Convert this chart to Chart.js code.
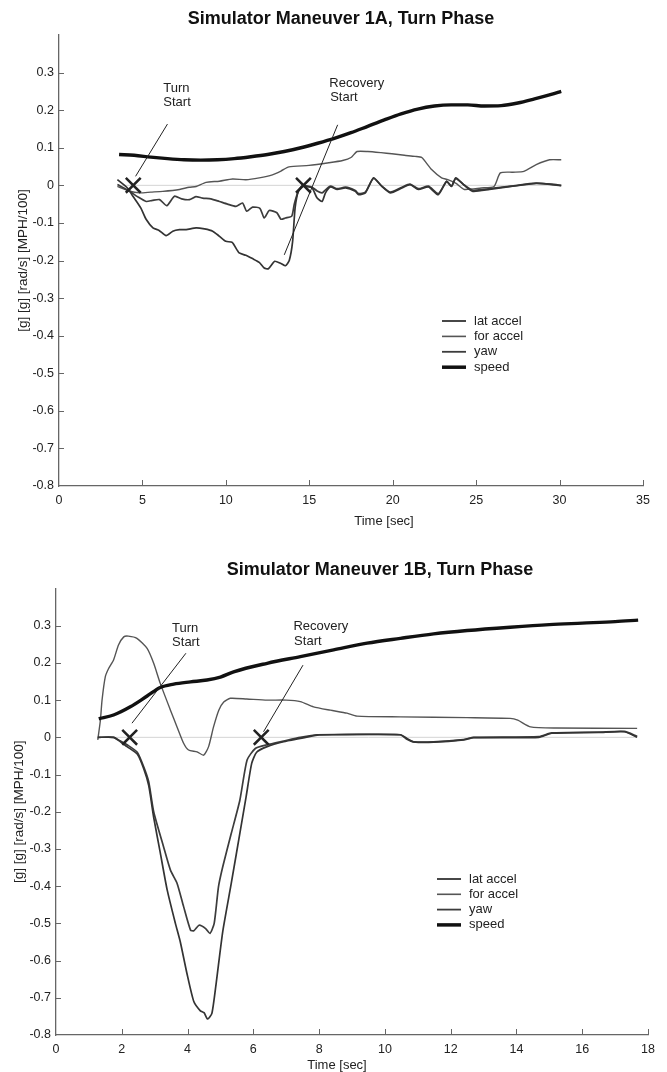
<!DOCTYPE html>
<html><head><meta charset="utf-8">
<script src="https://cdn.jsdelivr.net/npm/chart.js@4.4.1/dist/chart.umd.min.js"></script>
<style>
html,body{margin:0;padding:0;background:#fff;}
body{width:667px;height:1072px;position:relative;overflow:hidden;}
#c1{position:absolute;left:0;top:0;}
#c2{position:absolute;left:0;top:540px;}
</style></head><body>
<canvas id="c1" width="667" height="535"></canvas>
<canvas id="c2" width="667" height="532"></canvas>
<script>
// ---------- DATA: Maneuver 1A ----------
const titleA = 'Simulator Maneuver 1A, Turn Phase';
const seriesNames = ['lat accel', 'for accel', 'yaw', 'speed'];
const xTitle = 'Time [sec]';
const yTitle = '[g] [g] [rad/s] [MPH/100]';
const xTicksA = [0, 5, 10, 15, 20, 25, 30, 35];
const yTicks = [-0.8, -0.7, -0.6, -0.5, -0.4, -0.3, -0.2, -0.1, 0, 0.1, 0.2, 0.3, 0.4];

const latA = [[3.5,0.015],[4.1,-0.007],[4.43,-0.029],[4.9,-0.06],[5.23,-0.091],[5.63,-0.113],[6.0,-0.12],[6.42,-0.134],[6.82,-0.122],[7.22,-0.118],[7.62,-0.118],[8.22,-0.113],[8.72,-0.116],[9.21,-0.122],[9.6,-0.135],[10.0,-0.149],[10.38,-0.152],[10.8,-0.18],[11.2,-0.186],[11.6,-0.195],[12.0,-0.205],[12.3,-0.22],[12.55,-0.222],[12.93,-0.202],[13.3,-0.208],[13.57,-0.214],[13.8,-0.2],[14.0,-0.15],[14.15,-0.06],[14.35,-0.015],[14.6,-0.002],[14.78,-0.003],[15.17,-0.007],[15.47,-0.034],[15.77,-0.043],[15.97,-0.02],[16.27,-0.004],[16.67,-0.011],[17.17,-0.007],[17.76,-0.016],[17.96,-0.025],[18.36,-0.02],[18.85,0.02],[19.35,-0.003],[19.85,-0.02],[20.55,-0.007],[21.04,0.002],[21.54,-0.011],[22.14,-0.004],[22.73,-0.025],[23.23,0.011],[23.52,-0.003],[23.78,0.02],[24.29,0],[24.8,-0.016],[25.8,-0.011],[27.1,-0.003],[28.6,0.005],[29.5,0.003],[30.1,0]];
const forA = [[3.5,-0.003],[4.2,-0.015],[4.83,-0.02],[5.5,-0.018],[6.22,-0.016],[7.22,-0.011],[7.8,-0.005],[8.22,-0.003],[8.81,0.008],[9.61,0.011],[10.4,0.017],[11.2,0.015],[12.0,0.02],[12.79,0.028],[13.3,0.038],[13.78,0.049],[14.98,0.053],[16.17,0.06],[17.0,0.066],[17.5,0.074],[17.86,0.09],[18.5,0.09],[19.3,0.087],[19.95,0.084],[20.7,0.08],[21.34,0.077],[21.74,0.074],[22.33,0.042],[22.93,0.02],[23.3,0.015],[23.8,0.005],[24.29,-0.011],[25.3,-0.007],[26.07,-0.003],[26.45,0.033],[27.2,0.035],[27.86,0.037],[28.6,0.055],[29.4,0.068],[30.1,0.068]];
const yawA = [[3.5,0.002],[4.24,-0.016],[4.7,-0.03],[5.23,-0.043],[5.6,-0.04],[6.03,-0.038],[6.46,-0.054],[6.92,-0.029],[7.35,-0.036],[7.82,-0.038],[8.2,-0.03],[8.61,-0.034],[9.1,-0.036],[9.61,-0.043],[10.1,-0.05],[10.6,-0.056],[11.0,-0.047],[11.25,-0.069],[11.6,-0.058],[12.04,-0.061],[12.3,-0.087],[12.6,-0.067],[13.06,-0.073],[13.3,-0.09],[13.57,-0.087],[13.95,-0.082],[14.1,-0.05],[14.34,-0.016],[14.6,0],[14.8,-0.001],[15.17,-0.005],[15.47,-0.015],[15.77,-0.02],[15.97,-0.012],[16.27,-0.002],[16.67,-0.009],[17.17,-0.005],[17.76,-0.014],[17.96,-0.022],[18.36,-0.018],[18.85,0.018],[19.35,-0.002],[19.85,-0.018],[20.55,-0.005],[21.04,0.003],[21.54,-0.009],[22.14,-0.002],[22.73,-0.022],[23.23,0.01],[23.52,-0.002],[23.78,0.018],[24.29,0.001],[24.8,-0.013],[25.8,-0.009],[27.1,-0.002],[28.6,0.006],[29.5,0.002],[30.1,-0.001]];
const speedA = [[3.6,0.082],[4.5,0.08],[5.5,0.075],[6.5,0.071],[7.5,0.068],[8.5,0.067],[9.5,0.068],[10.5,0.071],[11.5,0.076],[12.5,0.082],[13.5,0.09],[14.5,0.1],[15.5,0.112],[16.5,0.125],[17.5,0.14],[18.5,0.157],[19.5,0.174],[20.5,0.19],[21.5,0.203],[22.5,0.211],[23.5,0.214],[24.5,0.214],[25.5,0.211],[26.5,0.212],[27.5,0.219],[28.5,0.23],[29.5,0.242],[30.1,0.25]];
const zeroA = [[3.6,0],[30.1,0]];
const marksA = [[4.45,0],[14.65,0]];
const turnLineA = [[6.5,0.163],[4.59,0.024]];
const recLineA = [[16.7,0.161],[13.5,-0.185]];
const notesA = [['Turn',6.25,0.259],['Start',6.25,0.221],['Recovery',16.2,0.272],['Start',16.25,0.234]];

// ---------- DATA: Maneuver 1B ----------
const titleB = 'Simulator Maneuver 1B, Turn Phase';
const xTicksB = [0, 2, 4, 6, 8, 10, 12, 14, 16, 18];
const latB = [[1.27,0],[1.75,0],[1.96,-0.012],[2.16,-0.025],[2.47,-0.045],[2.67,-0.085],[2.82,-0.13],[2.97,-0.215],[3.17,-0.31],[3.38,-0.41],[3.63,-0.5],[3.78,-0.55],[3.98,-0.634],[4.19,-0.71],[4.39,-0.735],[4.5,-0.74],[4.61,-0.757],[4.74,-0.742],[4.87,-0.661],[5.07,-0.522],[5.33,-0.392],[5.59,-0.258],[5.78,-0.16],[5.95,-0.07],[6.1,-0.04],[6.42,-0.025],[6.92,-0.012],[7.43,-0.003],[7.94,0.006],[8.44,0.007],[10.47,0.007],[10.67,-0.003],[10.87,-0.012],[11.48,-0.013],[12.39,-0.007],[12.7,-0.001],[14.68,0],[15.07,0.011],[16.5,0.013],[17.28,0.015],[17.67,0]];
const forB = [[1.27,-0.007],[1.35,0.046],[1.4,0.1],[1.5,0.163],[1.6,0.185],[1.75,0.208],[1.9,0.248],[2.06,0.27],[2.2,0.272],[2.46,0.266],[2.77,0.239],[2.97,0.199],[3.17,0.145],[3.48,0.073],[3.68,0.028],[3.88,-0.016],[4.03,-0.034],[4.29,-0.039],[4.49,-0.048],[4.64,-0.025],[4.79,0.028],[4.95,0.073],[5.1,0.095],[5.3,0.105],[5.8,0.103],[6.42,0.1],[7.0,0.1],[7.43,0.096],[7.83,0.082],[8.34,0.073],[8.85,0.065],[9.15,0.057],[10.47,0.055],[12.5,0.053],[13.81,0.051],[14.04,0.046],[14.43,0.028],[15.2,0.025],[17.67,0.024]];
const yawB = [[1.27,0],[1.75,0],[1.96,-0.01],[2.16,-0.02],[2.47,-0.04],[2.67,-0.08],[2.82,-0.12],[2.97,-0.2],[3.27,-0.294],[3.48,-0.357],[3.68,-0.392],[3.88,-0.455],[4.09,-0.518],[4.19,-0.52],[4.35,-0.505],[4.55,-0.514],[4.68,-0.527],[4.81,-0.5],[4.94,-0.402],[5.07,-0.348],[5.33,-0.258],[5.59,-0.169],[5.81,-0.061],[6.06,-0.03],[6.42,-0.02],[6.92,-0.01],[7.43,0],[7.94,0.007],[10.47,0.007],[10.67,-0.005],[10.87,-0.012],[11.48,-0.012],[12.39,-0.006],[12.7,0],[14.68,0.002],[15.07,0.012],[16.5,0.014],[17.28,0.016],[17.67,0.003]];
const speedB = [[1.3,0.05],[1.75,0.06],[2.26,0.082],[2.77,0.111],[3.17,0.134],[3.58,0.143],[4.09,0.149],[4.59,0.154],[5.0,0.162],[5.4,0.176],[6.42,0.199],[7.43,0.217],[8.44,0.235],[9.46,0.253],[10.47,0.266],[11.48,0.278],[12.5,0.287],[13.81,0.296],[15,0.303],[16,0.307],[17,0.311],[17.7,0.315]];
const zeroB = [[1.33,0],[17.67,0]];
const marksB = [[2.24,0],[6.24,0]];
const turnLineB = [[3.95,0.226],[2.31,0.038]];
const recLineB = [[7.51,0.194],[6.31,0.015]];
const notesB = [['Turn',3.53,0.293],['Start',3.53,0.254],['Recovery',7.22,0.299],['Start',7.24,0.257]];

// ---------- STYLE ----------
const FONT = '"Liberation Sans", Arial, Helvetica, sans-serif';
const AXIS = '#666';
const seriesColors = ['#333', '#555', '#3c3c3c', '#111'];
const seriesWidths = [1.7, 1.4, 1.7, 3.4];
const legendWidths = [1.8, 1.6, 1.8, 3.5];

const xy = a => a.map(p => ({x: p[0], y: p[1]}));

function fmtY(v) {
  if (Math.abs(v) < 1e-9) return '0';
  if (Math.abs(v - 0.4) < 1e-9) return '';
  return v.toFixed(1);
}

function buildChart(canvas, o) {
  const datasets = [
    {data: xy(o.marks), showLine: false, pointStyle: 'crossRot', pointRadius: 10.5, pointBorderWidth: 2.5, borderColor: '#222', backgroundColor: '#222'},
    {data: xy(o.turnLine), showLine: true, borderColor: '#222', borderWidth: 1, pointRadius: 0},
    {data: xy(o.recLine), showLine: true, borderColor: '#222', borderWidth: 1, pointRadius: 0},
    {label: seriesNames[3], data: xy(o.speed), showLine: true, borderColor: seriesColors[3], borderWidth: seriesWidths[3], pointRadius: 0, cubicInterpolationMode: 'monotone'},
    {label: seriesNames[0], data: xy(o.lat), showLine: true, borderColor: seriesColors[0], borderWidth: seriesWidths[0], pointRadius: 0, tension: 0.2},
    {label: seriesNames[2], data: xy(o.yaw), showLine: true, borderColor: seriesColors[2], borderWidth: seriesWidths[2], pointRadius: 0, tension: 0.2},
    {label: seriesNames[1], data: xy(o.fwd), showLine: true, borderColor: seriesColors[1], borderWidth: seriesWidths[1], pointRadius: 0, tension: 0.2},
    {data: xy(o.zero), showLine: true, borderColor: '#d4d4d4', borderWidth: 1, pointRadius: 0}
  ];
  const deco = {
    id: 'deco',
    afterDraw(chart) {
      const ctx = chart.ctx, xs = chart.scales.x, ys = chart.scales.y, ca = chart.chartArea;
      ctx.save();
      // inward tick marks
      ctx.strokeStyle = AXIS; ctx.lineWidth = 1;
      o.xTicks.forEach(v => {
        if (v === o.xTicks[0]) return;
        const px = Math.round(xs.getPixelForValue(v)) + 0.5;
        ctx.beginPath(); ctx.moveTo(px, ca.bottom); ctx.lineTo(px, ca.bottom - 6); ctx.stroke();
      });
      yTicks.forEach(v => {
        if (v === yTicks[0] || v === yTicks[yTicks.length - 1]) return;
        const py = Math.round(ys.getPixelForValue(v)) + 0.5;
        ctx.beginPath(); ctx.moveTo(ca.left, py); ctx.lineTo(ca.left + 5, py); ctx.stroke();
      });
      // notes
      ctx.fillStyle = '#222';
      ctx.font = '13px ' + FONT;
      ctx.textAlign = 'left'; ctx.textBaseline = 'middle';
      o.notes.forEach(n => ctx.fillText(n[0], xs.getPixelForValue(n[1]), ys.getPixelForValue(n[2])));
      // title
      ctx.fillStyle = '#111';
      ctx.font = 'bold 18px ' + FONT;
      ctx.textAlign = 'center'; ctx.textBaseline = 'alphabetic';
      ctx.fillText(o.title, o.titleX, o.titleY);
      // x title
      ctx.font = '13px ' + FONT;
      ctx.fillStyle = '#222';
      ctx.fillText(xTitle, o.xTitleX, o.xTitleY);
      // y title
      ctx.save();
      ctx.translate(o.yTitleX, (ca.top + ca.bottom) / 2);
      ctx.rotate(-Math.PI / 2);
      ctx.textBaseline = 'middle';
      ctx.font = '13.5px ' + FONT;
      ctx.fillText(yTitle, 0, 0);
      ctx.restore();
      // legend
      const order = [0, 1, 2, 3];
      ctx.font = '13px ' + FONT;
      ctx.textAlign = 'left'; ctx.textBaseline = 'middle';
      order.forEach((k, i) => {
        const y = o.legY + i * o.legStep;
        ctx.strokeStyle = seriesColors[k]; ctx.lineWidth = legendWidths[k];
        ctx.beginPath(); ctx.moveTo(o.legX1, y); ctx.lineTo(o.legX2, y); ctx.stroke();
        ctx.fillStyle = '#222';
        ctx.fillText(seriesNames[k], o.legTX, y);
      });
      ctx.restore();
    }
  };
  return new Chart(canvas, {
    type: 'scatter',
    data: {datasets},
    options: {
      responsive: false, animation: false, devicePixelRatio: 1,
      layout: {padding: o.pad},
      plugins: {legend: {display: false}, tooltip: {enabled: false}, title: {display: false}},
      scales: {
        x: {
          type: 'linear', min: o.xTicks[0], max: o.xTicks[o.xTicks.length - 1],
          afterBuildTicks: s => { s.ticks = o.xTicks.map(v => ({value: v})); },
          afterFit: s => { s.height = o.xH; },
          grid: {display: false, drawTicks: false},
          border: {display: true, color: AXIS, width: 1.3},
          ticks: {padding: 7, color: '#222', font: {family: FONT, size: 12.5}, maxRotation: 0, autoSkip: false}
        },
        y: {
          type: 'linear', min: yTicks[0], max: yTicks[yTicks.length - 1],
          afterBuildTicks: s => { s.ticks = yTicks.map(v => ({value: v})); },
          afterFit: s => { s.width = o.yW; },
          grid: {display: false, drawTicks: false},
          border: {display: true, color: AXIS, width: 1.3},
          ticks: {padding: 5, color: '#222', font: {family: FONT, size: 12.5}, callback: v => fmtY(v), autoSkip: false}
        }
      }
    },
    plugins: [deco]
  });
}

buildChart(document.getElementById('c1'), {
  lat: latA, fwd: forA, yaw: yawA, speed: speedA, zero: zeroA, marks: marksA,
  turnLine: turnLineA, recLine: recLineA, notes: notesA, xTicks: xTicksA, title: titleA,
  pad: {top: 35, right: 24, left: 0, bottom: 0}, yW: 59, xH: 49,
  titleX: 341, titleY: 24, xTitleX: 384, xTitleY: 525, yTitleX: 23,
  legX1: 442, legX2: 466, legTX: 474, legY: 321, legStep: 15.4
});
buildChart(document.getElementById('c2'), {
  lat: latB, fwd: forB, yaw: yawB, speed: speedB, zero: zeroB, marks: marksB,
  turnLine: turnLineB, recLine: recLineB, notes: notesB, xTicks: xTicksB, title: titleB,
  pad: {top: 48.5, right: 19, left: 0, bottom: 0}, yW: 56, xH: 37,
  titleX: 380, titleY: 35, xTitleX: 337, xTitleY: 529, yTitleX: 19,
  legX1: 437, legX2: 461, legTX: 469, legY: 339, legStep: 15.3
});
</script>
</body></html>
